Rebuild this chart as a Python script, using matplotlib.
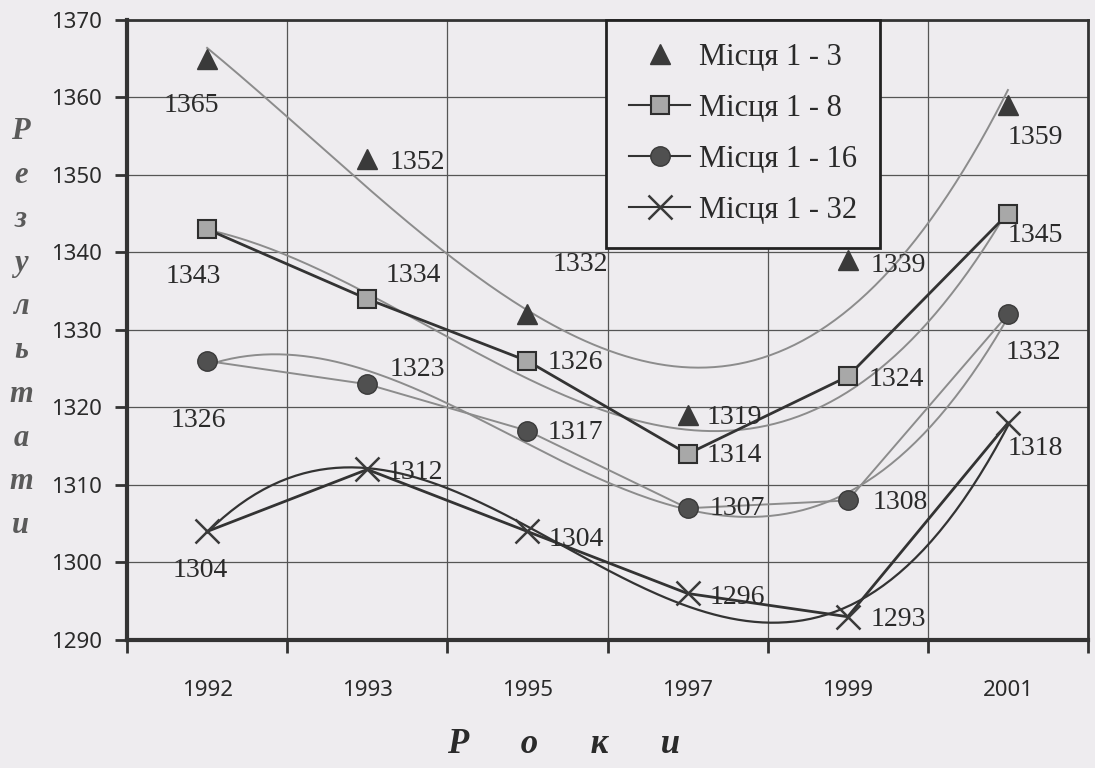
import numpy as np
import matplotlib
matplotlib.use('Agg')
import matplotlib.pyplot as plt
from matplotlib.lines import Line2D

# data
years = ['1992', '1993', '1995', '1997', '1999', '2001']
top3 = [1365, 1352, 1332, 1319, 1339, 1359]
top8 = [1343, 1334, 1326, 1314, 1324, 1345]
top16 = [1326, 1323, 1317, 1307, 1308, 1332]
top32 = [1304, 1312, 1304, 1296, 1293, 1318]
names = ['Місця 1 - 3', 'Місця 1 - 8', 'Місця 1 - 16', 'Місця 1 - 32']

# label offsets in pixels (dx, dy) for each point label
off3 = [(-16, -47), (50, -3), (53, 50), (47, -2), (51, -5), (27, -32)]
off8 = [(-14, -47), (46, 23), (48, -2), (47, -2), (49, -3), (27, -22)]
off16 = [(-9, -60), (50, 15), (48, -2), (50, 0), (52, -2), (25, -38)]
off32 = [(-7, -39), (48, -3), (49, -8), (50, -4), (51, -3), (27, -26)]

bg = '#eeecef'
dark = '#333333'
grey = '#8c8c8c'
serif = 'Liberation Serif'

fig = plt.figure(figsize=(10.95, 7.68), dpi=100, facecolor=bg)
ax = fig.add_axes([0.116, 0.1667, 0.8776, 0.8073], facecolor=bg)

x = np.arange(len(years))
xs = np.linspace(0, len(years) - 1, 200)

def trend(vals, color, lw):
    # cubic trend line like the spreadsheet one
    c = np.polyfit(x, vals, 3)
    ax.plot(xs, np.polyval(c, xs), color=color, lw=lw, zorder=2)

trend(top3, grey, 1.4)
trend(top8, grey, 1.4)
trend(top16, grey, 1.4)
trend(top32, dark, 1.6)

ax.plot(x, top3, linestyle='none', marker='^', ms=15, mfc='#3a3a3a', mec='#3a3a3a', zorder=4)
ax.plot(x, top8, color=dark, lw=2, marker='s', ms=13, mfc='#a8a8a8', mec='#2e2e2e', mew=1.5, zorder=4)
ax.plot(x, top16, color=grey, lw=1.4, marker='o', ms=14, mfc='#505050', mec='#3a3a3a', zorder=4)
ax.plot(x, top32, color=dark, lw=2, marker='x', ms=17, mec='#3a3a3a', mew=1.8, zorder=4)

for vals, offs in [(top3, off3), (top8, off8), (top16, off16), (top32, off32)]:
    for xi, v, (dx, dy) in zip(x, vals, offs):
        ax.annotate(str(v), (xi, v), xytext=(dx, dy), textcoords='offset pixels',
                    ha='center', va='center', fontsize=20, family=serif, color='#2a2a2a', zorder=5)

ax.set_xlim(-0.5, len(years) - 0.5)
ax.set_ylim(1290, 1370)
ax.set_yticks(np.arange(1290, 1371, 10))
ax.set_xticks(np.arange(-0.5, len(years), 1.0))
ax.set_xticklabels([])
ax.set_xticks(x, minor=True)
ax.set_xticklabels(years, minor=True, fontsize=16, family='Noto Sans', color='#2a2a2a')
ax.tick_params(axis='x', which='minor', length=0, pad=29)
ax.tick_params(axis='x', which='major', length=9, width=2, direction='out', color=dark)
ax.tick_params(axis='y', length=9, width=2, direction='out', pad=9, color=dark,
               labelsize=16, labelcolor='#2a2a2a')
for t in ax.get_yticklabels():
    t.set_family('Noto Sans')
ax.grid(True, which='major', color='#555555', lw=0.9)
ax.set_axisbelow(True)

for side in ['left', 'bottom']:
    ax.spines[side].set_linewidth(3)
    ax.spines[side].set_color(dark)
for side in ['top', 'right']:
    ax.spines[side].set_linewidth(2)
    ax.spines[side].set_color(dark)

handles = [
    Line2D([], [], linestyle='none', marker='^', ms=15, mfc='#3a3a3a', mec='#3a3a3a'),
    Line2D([], [], color=dark, lw=1.5, marker='s', ms=13, mfc='#a8a8a8', mec='#2e2e2e', mew=1.5),
    Line2D([], [], color=dark, lw=1.5, marker='o', ms=14, mfc='#505050', mec='#3a3a3a'),
    Line2D([], [], color=dark, lw=1.5, marker='x', ms=17, mec='#3a3a3a', mew=1.8),
]
leg = ax.legend(handles, names, loc='upper left', bbox_to_anchor=(0.4985, 1.0),
                borderaxespad=0, prop={'family': serif, 'size': 22}, frameon=True,
                fancybox=False, edgecolor='#222222', facecolor=bg, framealpha=1,
                handlelength=2.0, labelspacing=0.72, borderpad=0.75, handletextpad=0.3,
                labelcolor='#2a2a2a')
leg.get_frame().set_linewidth(2)
leg.set_zorder(6)

# axis titles
fig.text(0.019, 0.572, '\n'.join('Результати'), ha='center', va='center', fontsize=22,
         family=serif, style='italic', weight='bold', color='#5a5a5a', linespacing=1.67)
fig.text(0.515, 0.03, 'Р      о      к      и', ha='center', va='center', fontsize=25,
         family=serif, style='italic', weight='bold', color='#2a2a2a')

fig.savefig('out.png', dpi=100, facecolor=bg)
